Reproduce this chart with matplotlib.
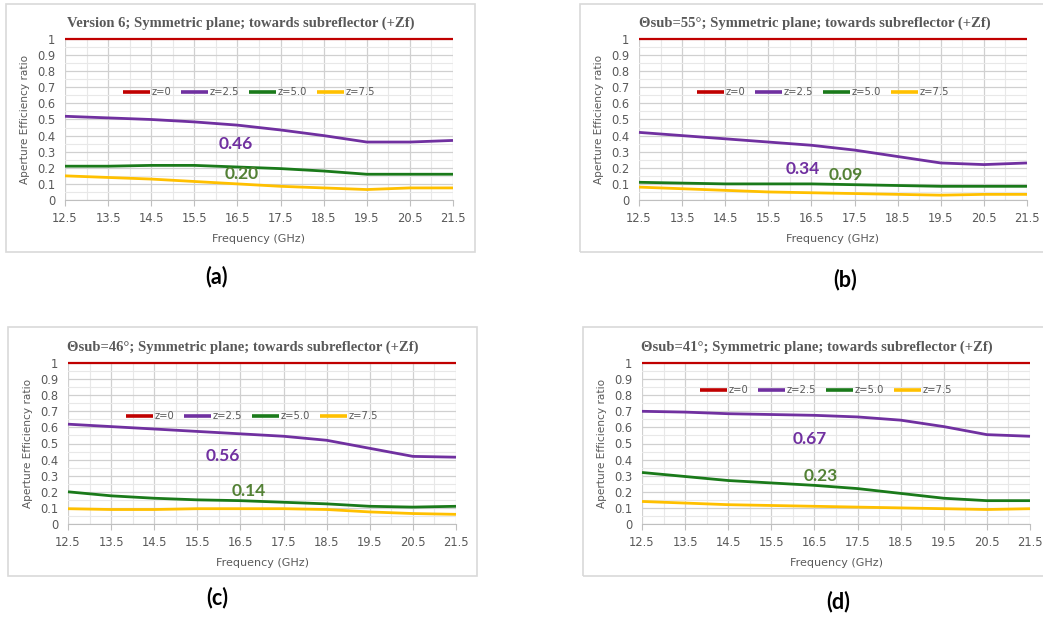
import matplotlib
matplotlib.use('Agg')
import numpy as np
import matplotlib.pyplot as plt
from matplotlib.patches import Rectangle
from matplotlib.ticker import MultipleLocator

freq = [12.5, 13.5, 14.5, 15.5, 16.5, 17.5, 18.5, 19.5, 20.5, 21.5]
labels = ['z=0', 'z=2.5', 'z=5.0', 'z=7.5']

titles = ['Version 6; Symmetric plane; towards subreflector (+Zf)',
          'Θsub=55°; Symmetric plane; towards subreflector (+Zf)',
          'Θsub=46°; Symmetric plane; towards subreflector (+Zf)',
          'Θsub=41°; Symmetric plane; towards subreflector (+Zf)']
panel_tags = ['(a)', '(b)', '(c)', '(d)']

z0 = [1.0] * 10
# (a) version 6
a_z25 = [0.52, 0.51, 0.50, 0.485, 0.465, 0.435, 0.40, 0.36, 0.36, 0.37]
a_z50 = [0.21, 0.21, 0.215, 0.215, 0.205, 0.195, 0.18, 0.16, 0.16, 0.16]
a_z75 = [0.15, 0.14, 0.13, 0.115, 0.10, 0.085, 0.075, 0.065, 0.075, 0.075]
# (b) 55 deg
b_z25 = [0.42, 0.40, 0.38, 0.36, 0.34, 0.31, 0.27, 0.23, 0.22, 0.23]
b_z50 = [0.11, 0.105, 0.10, 0.10, 0.10, 0.095, 0.09, 0.085, 0.085, 0.085]
b_z75 = [0.08, 0.07, 0.06, 0.05, 0.045, 0.04, 0.035, 0.03, 0.035, 0.035]
# (c) 46 deg
c_z25 = [0.62, 0.605, 0.59, 0.575, 0.56, 0.545, 0.52, 0.47, 0.42, 0.415]
c_z50 = [0.20, 0.175, 0.16, 0.15, 0.145, 0.135, 0.125, 0.11, 0.105, 0.11]
c_z75 = [0.095, 0.09, 0.09, 0.095, 0.095, 0.095, 0.09, 0.075, 0.065, 0.06]
# (d) 41 deg
d_z25 = [0.70, 0.695, 0.685, 0.68, 0.675, 0.665, 0.645, 0.605, 0.555, 0.545]
d_z50 = [0.32, 0.295, 0.27, 0.255, 0.24, 0.22, 0.19, 0.16, 0.145, 0.145]
d_z75 = [0.14, 0.13, 0.12, 0.115, 0.11, 0.105, 0.10, 0.095, 0.09, 0.095]

# efficiency values written on the charts (z=2.5, z=5.0) at 16.5 GHz
marked_z25 = [0.46, 0.34, 0.56, 0.67]
marked_z50 = [0.20, 0.09, 0.14, 0.23]

series = [[z0, a_z25, a_z50, a_z75],
          [z0, b_z25, b_z50, b_z75],
          [z0, c_z25, c_z50, c_z75],
          [z0, d_z25, d_z50, d_z75]]

colors = ['#C00000', '#7030A0', '#1A7A1A', '#FFC000']
widths = [1.6, 2.0, 2.0, 2.0]
txt_gray = '#595959'

W, H = 1043, 620
fig = plt.figure(figsize=(W / 100, H / 100), dpi=100)
fig.patch.set_facecolor('white')

# pixel layout: axes left/top, chart frame box, title centre, tag position
layout = [
    dict(ax=(65, 39), frame=(6, 4, 475, 252), title=(241, 23), tag=(217, 277),
         leg=(0.474, 0.67), n1=(16.45, 0.35), n2=(16.6, 0.16)),
    dict(ax=(639, 39), frame=(580, 4, 1050, 252), title=(815, 23), tag=(845, 280),
         leg=(0.474, 0.67), n1=(16.3, 0.19), n2=(17.3, 0.155)),
    dict(ax=(68, 363), frame=(8, 327, 477, 576), title=(243, 347), tag=(217, 598),
         leg=(0.474, 0.67), n1=(16.1, 0.42), n2=(16.7, 0.205)),
    dict(ax=(642, 363), frame=(583, 327, 1050, 576), title=(817, 347), tag=(838, 602),
         leg=(0.475, 0.83), n1=(16.4, 0.53), n2=(16.65, 0.30)),
]
aw, ah = 388, 161

for i, lay in enumerate(layout):
    x0, y0, x1, y1 = lay['frame']
    fig.patches.append(Rectangle((x0 / W, 1 - y1 / H), (x1 - x0) / W, (y1 - y0) / H,
                                 transform=fig.transFigure, facecolor='none',
                                 edgecolor='#D9D9D9', linewidth=1.2, zorder=-1))

    left, top = lay['ax']
    ax = fig.add_axes([left / W, 1 - (top + ah) / H, aw / W, ah / H])
    ax.set_zorder(2)
    ax.patch.set_alpha(0)

    for ys, c, lw, lab in zip(series[i], colors, widths, labels):
        ax.plot(freq, ys, color=c, linewidth=lw, label=lab,
                solid_capstyle='butt', zorder=3, clip_on=False)

    ax.set_xlim(12.5, 21.5)
    ax.set_ylim(0, 1)
    ax.xaxis.set_minor_locator(MultipleLocator(0.5))
    ax.yaxis.set_minor_locator(MultipleLocator(0.05))
    ax.set_xticks(freq)
    ax.set_xticklabels(['%.1f' % f for f in freq])
    ax.set_yticks(np.arange(0, 1.01, 0.1))
    ax.set_yticklabels(['0'] + ['%.1f' % v for v in np.arange(0.1, 0.95, 0.1)] + ['1'])
    ax.grid(which='major', color='#D0D0D0', linewidth=0.9)
    ax.grid(which='minor', color='#E8E8E8', linewidth=0.8)
    ax.set_axisbelow(True)

    for sp in ['top', 'right', 'left']:
        ax.spines[sp].set_visible(False)
    ax.spines['bottom'].set_color('#BFBFBF')
    ax.tick_params(axis='x', which='major', length=4, color='#BFBFBF',
                   labelsize=8.3, labelcolor=txt_gray, pad=5)
    ax.tick_params(axis='x', which='minor', length=0)
    ax.tick_params(axis='y', which='both', length=0, labelsize=8.3,
                   labelcolor=txt_gray, pad=7)

    ax.set_xlabel('Frequency (GHz)', fontsize=8, color=txt_gray, labelpad=6)
    ax.set_ylabel('Aperture Efficiency ratio', fontsize=7.6, color=txt_gray, labelpad=5)

    leg = ax.legend(loc='center', bbox_to_anchor=lay['leg'], ncol=4, frameon=False,
                    fontsize=7.2, handlelength=2.7, handletextpad=0.15,
                    columnspacing=1.0)
    for t in leg.get_texts():
        t.set_color(txt_gray)
    for h in leg.legend_handles:
        h.set_linewidth(2.6)

    ax.text(lay['n1'][0], lay['n1'][1], '%.2f' % marked_z25[i], color='#7030A0',
            fontsize=12.5, fontweight='bold', family='Lato', ha='center', va='center')
    ax.text(lay['n2'][0], lay['n2'][1], '%.2f' % marked_z50[i], color='#538135',
            fontsize=12.5, fontweight='bold', family='Lato', ha='center', va='center')

    fig.text(lay['title'][0] / W, 1 - lay['title'][1] / H, titles[i],
             family='Liberation Serif', fontweight='bold', fontsize=10.5,
             color=txt_gray, ha='center', va='center')
    fig.text(lay['tag'][0] / W, 1 - lay['tag'][1] / H, panel_tags[i],
             family='Lato', fontweight='bold', fontsize=15.5, color='black',
             ha='center', va='center')

fig.savefig('out.png', dpi=100, facecolor='white')
